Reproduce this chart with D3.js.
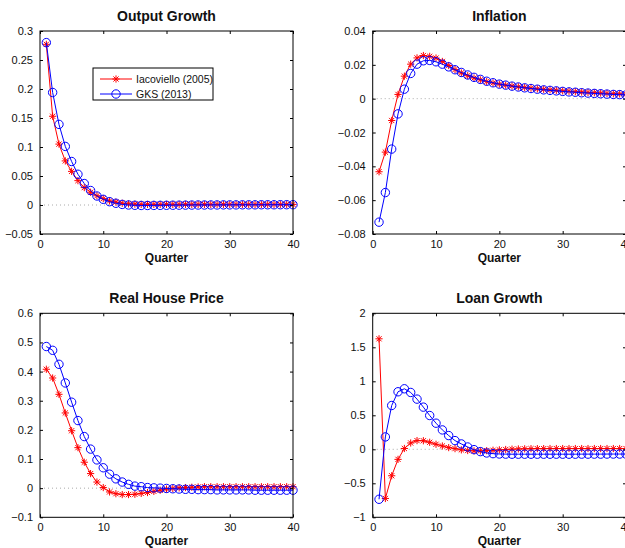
<!DOCTYPE html>
<html>
<head>
<meta charset="utf-8">
<script src="https://cdn.jsdelivr.net/npm/d3@7"></script>
<style>
  html, body { margin: 0; padding: 0; background: #fff; }
  svg { display: block; font-family: "Liberation Sans", Arial, Helvetica, sans-serif; }
</style>
</head>
<body>
<svg id="chart" width="625" height="548"></svg>
<script>
// Impulse responses over 40 quarters: Iacoviello (2005) vs GKS (2013)
const quarters = d3.range(1, 41);
const xTicks = [0, 10, 20, 30, 40];
const seriesNames = ["Iacoviello (2005)", "GKS (2013)"];

const outputIac = [0.277, 0.153, 0.105, 0.076, 0.058, 0.042, 0.030, 0.022, 0.016, 0.011,
  0.007, 0.005, 0.003, 0.002, 0.0015, 0.001, 0.001, 0.001, 0.001, 0.001,
  0.001, 0.001, 0.001, 0.001, 0.001, 0.001, 0.001, 0.001, 0.001, 0.001,
  0.001, 0.001, 0.001, 0.001, 0.001, 0.001, 0.001, 0.001, 0.001, 0.001];
const outputGks = [0.280, 0.194, 0.139, 0.101, 0.075, 0.053, 0.037, 0.025, 0.0155, 0.0098,
  0.0057, 0.003, 0.001, 0.0, -0.0005, -0.0008, -0.0008, -0.0007, -0.0006, -0.0005,
  -0.0004, -0.0003, -0.0002, -0.0001, 0.0, 0.0, 0.0001, 0.0001, 0.0002, 0.0002,
  0.0002, 0.0003, 0.0003, 0.0003, 0.0004, 0.0004, 0.0004, 0.0005, 0.0005, 0.0005];

const inflIac = [-0.0432, -0.0316, -0.0129, 0.0025, 0.0133, 0.0204, 0.0241, 0.0255, 0.0250, 0.0240,
  0.0220, 0.0196, 0.0172, 0.0152, 0.0136, 0.0122, 0.0111, 0.0101, 0.0093, 0.0086,
  0.0080, 0.0075, 0.0070, 0.0066, 0.0062, 0.0058, 0.0055, 0.0052, 0.0049, 0.0046,
  0.0044, 0.0041, 0.0039, 0.0037, 0.0035, 0.0033, 0.0031, 0.0029, 0.0028, 0.0026];
const inflGks = [-0.0730, -0.0555, -0.0298, -0.0090, 0.0056, 0.0149, 0.0204, 0.0224, 0.0226, 0.0218,
  0.0204, 0.0188, 0.0171, 0.0155, 0.0140, 0.0126, 0.0114, 0.0103, 0.0094, 0.0086,
  0.0080, 0.0074, 0.0069, 0.0064, 0.0060, 0.0056, 0.0052, 0.0049, 0.0046, 0.0043,
  0.0040, 0.0038, 0.0035, 0.0033, 0.0031, 0.0029, 0.0027, 0.0025, 0.0024, 0.0022];

const houseIac = [0.408, 0.378, 0.322, 0.258, 0.197, 0.139, 0.089, 0.050, 0.021, 0.002,
  -0.013, -0.019, -0.022, -0.022, -0.021, -0.018, -0.015, -0.011, -0.007, -0.003,
  -0.001, 0.001, 0.002, 0.003, 0.004, 0.005, 0.005, 0.005, 0.005, 0.005,
  0.005, 0.005, 0.005, 0.005, 0.005, 0.005, 0.005, 0.005, 0.005, 0.005];
const houseGks = [0.486, 0.473, 0.425, 0.361, 0.295, 0.232, 0.177, 0.134, 0.097, 0.070,
  0.048, 0.032, 0.021, 0.013, 0.007, 0.005, 0.002, 0.001, 0.0, -0.001,
  -0.002, -0.003, -0.004, -0.004, -0.005, -0.005, -0.005, -0.006, -0.006, -0.006,
  -0.006, -0.006, -0.006, -0.007, -0.007, -0.007, -0.007, -0.007, -0.007, -0.007];

const loanIac = [1.625, -0.723, -0.389, -0.148, 0.012, 0.093, 0.128, 0.126, 0.103, 0.074,
  0.049, 0.025, 0.010, -0.008, -0.018, -0.023, -0.024, -0.020, -0.014, -0.008,
  -0.003, 0.002, 0.005, 0.007, 0.009, 0.010, 0.010, 0.011, 0.011, 0.011,
  0.011, 0.011, 0.011, 0.011, 0.011, 0.011, 0.011, 0.011, 0.011, 0.011];
const loanGks = [-0.735, 0.182, 0.644, 0.846, 0.890, 0.836, 0.738, 0.620, 0.497, 0.384,
  0.285, 0.202, 0.128, 0.079, 0.034, -0.005, -0.034, -0.054, -0.064, -0.069,
  -0.071, -0.072, -0.072, -0.072, -0.072, -0.072, -0.072, -0.072, -0.072, -0.072,
  -0.072, -0.072, -0.071, -0.071, -0.071, -0.071, -0.070, -0.070, -0.070, -0.070];

const outputTicks = [-0.05, 0, 0.05, 0.1, 0.15, 0.2, 0.25, 0.3];
const inflTicks = [-0.08, -0.06, -0.04, -0.02, 0, 0.02, 0.04];
const houseTicks = [-0.1, 0, 0.1, 0.2, 0.3, 0.4, 0.5, 0.6];
const loanTicks = [-1, -0.5, 0, 0.5, 1, 1.5, 2];

const panels = [
  { title: "Output Growth", iac: outputIac, gks: outputGks, ticks: outputTicks, box: [40, 31, 293, 234], legend: true },
  { title: "Inflation", iac: inflIac, gks: inflGks, ticks: inflTicks, box: [372.7, 31, 626, 234] },
  { title: "Real House Price", iac: houseIac, gks: houseGks, ticks: houseTicks, box: [40, 313.3, 293, 517.3] },
  { title: "Loan Growth", iac: loanIac, gks: loanGks, ticks: loanTicks, box: [372.7, 313.3, 626, 517.3] }
];

const RED = "#ff0000", BLUE = "#0000ff";
const svg = d3.select("#chart");
const fmt = v => (v < 0 ? "\u2212" : "") + String(+Math.abs(v).toFixed(4));

function starPath(r) {
  const d = r * 0.72;
  return `M${-r},0L${r},0M0,${-r}L0,${r}M${-d},${-d}L${d},${d}M${-d},${d}L${d},${-d}`;
}

function drawMarkers(g, pts, kind, color) {
  if (kind === "star") {
    g.selectAll(null).data(pts).join("path")
      .attr("transform", d => `translate(${d[0]},${d[1]})`)
      .attr("d", starPath(3.6))
      .attr("fill", "none").attr("stroke", color).attr("stroke-width", 1);
  } else {
    g.selectAll(null).data(pts).join("circle")
      .attr("cx", d => d[0]).attr("cy", d => d[1]).attr("r", 4.2)
      .attr("fill", "none").attr("stroke", color).attr("stroke-width", 1);
  }
}

panels.forEach(p => {
  const [x0, y0, x1, y1] = p.box;
  const x = d3.scaleLinear().domain([0, 40]).range([x0, x1]);
  const y = d3.scaleLinear().domain([p.ticks[0], p.ticks[p.ticks.length - 1]]).range([y1, y0]);
  const g = svg.append("g");

  // dotted zero reference
  g.append("line")
    .attr("x1", x0).attr("x2", x1).attr("y1", y(0)).attr("y2", y(0))
    .attr("stroke", "#aaaaaa").attr("stroke-width", 1).attr("stroke-dasharray", "1,3");

  const line = d3.line().x((d, i) => x(quarters[i])).y(d => y(d));
  const series = [
    { vals: p.iac, color: RED, kind: "star" },
    { vals: p.gks, color: BLUE, kind: "circle" }
  ];
  series.forEach(s => {
    g.append("path").attr("d", line(s.vals))
      .attr("fill", "none").attr("stroke", s.color).attr("stroke-width", 1);
    drawMarkers(g.append("g"), s.vals.map((v, i) => [x(quarters[i]), y(v)]), s.kind, s.color);
  });

  // axes box with inward ticks on all sides
  const tl = 3;
  const axB = g.append("g").attr("transform", `translate(0,${y1})`)
    .call(d3.axisBottom(x).tickValues(xTicks).tickSizeInner(-tl).tickSizeOuter(0).tickPadding(6).tickFormat(d3.format("d")));
  const axT = g.append("g").attr("transform", `translate(0,${y0})`)
    .call(d3.axisTop(x).tickValues(xTicks).tickSizeInner(-tl).tickSizeOuter(0).tickFormat(""));
  const axL = g.append("g").attr("transform", `translate(${x0},0)`)
    .call(d3.axisLeft(y).tickValues(p.ticks).tickSizeInner(-tl).tickSizeOuter(0).tickPadding(7).tickFormat(fmt));
  const axR = g.append("g").attr("transform", `translate(${x1},0)`)
    .call(d3.axisRight(y).tickValues(p.ticks).tickSizeInner(-tl).tickSizeOuter(0).tickFormat(""));
  [axB, axT, axL, axR].forEach(a => {
    a.select(".domain").remove();
    a.selectAll("line").attr("stroke", "#000");
    a.selectAll("text").attr("fill", "#111").style("font-size", "11px").style("font-family", null);
  });
  g.append("rect").attr("x", x0).attr("y", y0).attr("width", x1 - x0).attr("height", y1 - y0)
    .attr("fill", "none").attr("stroke", "#000").attr("stroke-width", 1);

  // title and x label
  g.append("text").attr("x", (x0 + x1) / 2).attr("y", y0 - 10)
    .attr("text-anchor", "middle").attr("font-weight", "bold").attr("font-size", 14)
    .attr("fill", "#111").text(p.title);
  g.append("text").attr("x", (x0 + x1) / 2).attr("y", y1 + 28)
    .attr("text-anchor", "middle").attr("font-weight", "bold").attr("font-size", 12)
    .attr("fill", "#111").text("Quarter");

  if (p.legend) {
    const lg = g.append("g");
    lg.append("rect").attr("x", 93).attr("y", 68).attr("width", 120).attr("height", 32)
      .attr("fill", "#fff").attr("stroke", "#000").attr("stroke-width", 1);
    const entries = [
      { name: seriesNames[0], color: RED, kind: "star", yy: 79 },
      { name: seriesNames[1], color: BLUE, kind: "circle", yy: 94 }
    ];
    entries.forEach(e => {
      lg.append("line").attr("x1", 100).attr("x2", 132).attr("y1", e.yy).attr("y2", e.yy)
        .attr("stroke", e.color).attr("stroke-width", 1);
      drawMarkers(lg.append("g"), [[116, e.yy]], e.kind, e.color);
      lg.append("text").attr("x", 136).attr("y", e.yy + 3.8)
        .attr("font-size", 10.5).attr("fill", "#111").text(e.name);
    });
  }
});
</script>
</body>
</html>
